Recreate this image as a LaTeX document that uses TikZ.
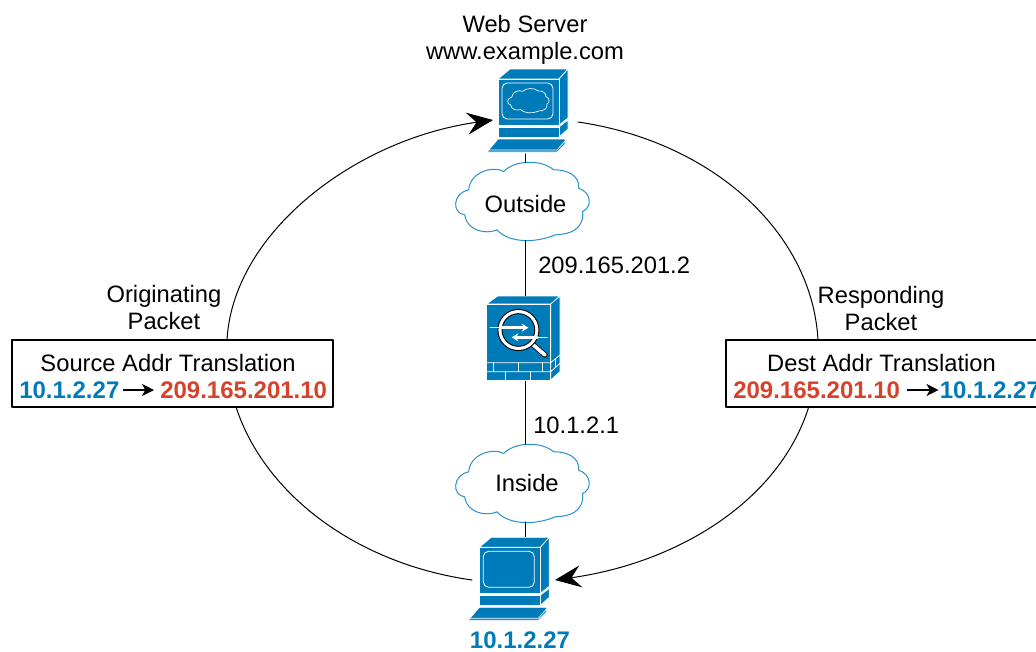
\documentclass[tikz,border=0pt]{standalone}
\usepackage{fontspec}
\setmainfont{Liberation Sans}
\usetikzlibrary{arrows.meta}
\definecolor{ciscoblue}{RGB}{0,123,186}
\definecolor{natred}{RGB}{215,66,43}
\definecolor{cloudblue}{RGB}{40,145,200}
\tikzset{
	label text/.style={font=\fontsize{17.8}{20.25}\selectfont, align=center, inner sep=0pt},
	addr/.style={font=\fontsize{18}{20.25}\selectfont\bfseries, inner sep=0.75pt},
	packet/.style={line width=0.75pt},
	link/.style={line width=0.75pt},
	bigtip/.style={-{Stealth[length=19.5pt,width=16.5pt,inset=7pt]}},
	smalltip/.style={line width=0.8pt, -{Stealth[length=9pt,width=9pt,inset=2.5pt]}},
	natbox/.style={draw, line width=1.1pt, minimum width=240.75pt, minimum height=50.25pt, inner sep=0pt},
	icon/.style={inner sep=0pt},
	shell/.style={fill=ciscoblue, draw=white, line width=0.5pt, line join=round},
	netcloud/.pic={
		\draw[pic actions] (-18.3,-30) .. controls (-8,-41) and (18,-43) .. (31.7,-31.7)
			.. controls (45,-32) and (58,-26) .. (56.7,-13.3)
			.. controls (70,-9) and (70,6) .. (60.7,10)
			.. controls (62,28) and (48,33) .. (33.3,33.3)
			.. controls (10,43) and (-15,40) .. (-25,28.3)
			.. controls (-35,33) and (-55,30) .. (-57.3,13.3)
			.. controls (-70,12) and (-70,-8) .. (-53.3,-11.7)
			.. controls (-52,-30) and (-28,-36) .. (-18.3,-30) -- cycle;
	},
	terminal/.pic={
		\draw[shell] (0,0) -- (12,-10) -- (70,-10) -- (61,0) -- cycle;
		\draw[shell] (61,0) -- (70,-10) -- (70,39) -- (61,46) -- cycle;
		\draw[shell] (0,0) rectangle (61,46);
		\draw[shell] (61,48) -- (70,41) -- (70,50) -- (61,58) -- cycle;
		\draw[shell] (0,48) rectangle (61,58);
		\draw[shell] (-11,73) -- (0,60) -- (67,60) -- (67,65) -- (59,73) -- cycle;
		\draw[white, line width=0.5pt] (-11,71) -- (59,71) -- (67,62);
		\draw[white, line width=0.6pt, rounded corners=4pt] (4,4) rectangle (55,40);
	},
	firewall/.pic={
		\draw[shell] (0,0) -- (11,-8) -- (73.3,-8) -- (64,0) -- cycle;
		\draw[shell] (64,0) -- (73.3,-8) -- (73.3,67.7) -- (64,76) -- cycle;
		\draw[shell] (0,0) rectangle (64,76);
		\draw[white, line width=0.6pt] (0,58.7) -- (64,58.7) -- (73.3,51);
		\draw[white, line width=0.6pt] (0,67.7) -- (64,67.7) -- (73.3,59.3);
		\foreach \bx in {6.7,31.7,56} \draw[white, line width=0.6pt] (\bx,58.7) -- (\bx,67.7);
		\foreach \bx in {18.3,43.3} \draw[white, line width=0.6pt] (\bx,67.7) -- (\bx,76);
		\draw[white, line width=0.6pt] (68.6,54.8) -- (68.6,63.5);
		\draw[black, line width=4pt, line cap=round] (46.7,41) -- (58.3,51);
		\draw[white, line width=2.8pt, line cap=round] (46.7,41) -- (58.3,51);
		\draw[fill=black, draw=none] (31.7,26) circle[radius=21];
		\draw[fill=white, draw=none] (31.7,26) circle[radius=20];
		\draw[fill=black, draw=none] (31.7,26) circle[radius=16.8];
		\draw[fill=ciscoblue, draw=none] (31.7,26) circle[radius=15.8];
		\draw[white, line width=0.5pt] (3.3,23.7) -- (13.3,23.7);
		\draw[white, line width=2pt, -{Stealth[length=5pt,width=6pt]}] (13.3,23.7) -- (41.7,23.7);
		\draw[white, line width=0.5pt] (60.7,33.3) -- (50.7,33.3);
		\draw[white, line width=2pt, -{Stealth[length=5pt,width=6pt]}] (50.7,33.3) -- (25,33.3);
	}
}
\begin{document}
\begin{tikzpicture}[x=0.75pt, y=-0.75pt, line join=round, line cap=round] %NAT round trip
	\useasboundingbox (0,0) rectangle (1036,651);
	% icons and clouds
	\pic at (498,79) {terminal};
	\pic[draw=white, line width=0.5pt, scale=0.31] at (528.3,100.7) {netcloud};
	\pic at (486.7,304) {firewall};
	\pic at (479.3,547.3) {terminal};
	\pic[draw=cloudblue, line width=0.75pt] at (522,201.5) {netcloud};
	\pic[draw=cloudblue, line width=0.75pt] at (522,483.5) {netcloud};
	\node[icon, minimum width=60pt, minimum height=63pt] (webserver) at (525.5,111.5) {};
	\node[icon, minimum width=60pt, minimum height=64pt] (asa) at (525.5,338.5) {};
	\node[icon, minimum width=60pt, minimum height=60pt] (client) at (525.5,577) {};
	\node[label text, text height=17.3pt, minimum width=99pt, minimum height=57.75pt] (outside) at (525.5,201.5) {Outside};
	\node[label text, minimum width=99pt, minimum height=57.75pt] (inside) at (525.5,483) {\hspace*{2.25pt}Inside};
	% vertical links
	\draw[link] (webserver) -- (outside);
	\draw[link] (outside) -- (asa);
	\draw[link] (asa) -- (inside);
	\draw[link] (inside) -- (client);
	% texts
	\node[label text] (webname) at (525,39.5) {Web Server\\www.example.com};
	\node[label text, anchor=west] (outerip) at (538,265.5) {209.165.201.2};
	\node[label text, anchor=west] (innerip) at (533,425.5) {10.1.2.1};
	\node[label text] (origlabel) at (164,308) {Originating\\Packet};
	\node[label text] (resplabel) at (881,309) {Responding\\Packet};
	\node[addr, text=ciscoblue] (clientip) at (520,640.5) {10.1.2.27};
	% translation boxes
	\node[natbox] (srcbox) at (172.5,373.5) {};
	\node[natbox] (dstbox) at (886.5,373.5) {};
	\node[label text] (srctitle) at (168,363) {Source Addr Translation};
	\node[label text] (dsttitle) at (881.5,363) {Dest Addr Translation};
	\node[addr, text=ciscoblue, anchor=west] (srcold) at (18,390) {10.1.2.27};
	\node[addr, text=natred, anchor=west] (srcnew) at (159,390) {209.165.201.10};
	\node[addr, text=natred, anchor=west] (dstold) at (732,390) {209.165.201.10};
	\node[addr, text=ciscoblue, anchor=west] (dstnew) at (938.5,390) {10.1.2.27};
	\draw[smalltip, shorten <=2pt, shorten >=3.75pt] (srcold) -- (srcnew);
	\draw[smalltip, shorten <=4.5pt] (dstold) -- (dstnew);
	% packet path
	\coordinate (srctop) at (227,340);
	\coordinate (srcbot) at (236,407);
	\coordinate (dsttop) at (818,340);
	\coordinate (dstbot) at (808.7,407);
	\coordinate (webin) at (493,120);
	\coordinate (webout) at (578,122);
	\coordinate (clientout) at (472,580);
	\coordinate (clientin) at (555,580);
	\draw[packet, bigtip] (srctop) .. controls (233,232) and (356,139) .. (webin);
	\draw[packet] (webout) .. controls (712,141.6) and (812,232) .. (dsttop);
	\draw[packet, bigtip] (dstbot) .. controls (779,501.5) and (677,563) .. (clientin);
	\draw[packet] (srcbot) .. controls (265,495.6) and (358,564) .. (clientout);
\end{tikzpicture}
\end{document}
